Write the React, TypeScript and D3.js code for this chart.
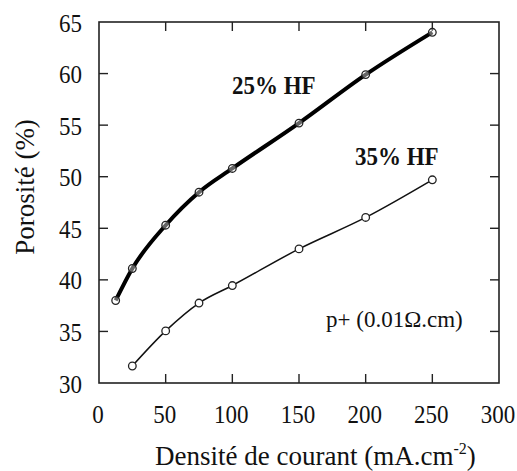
import React from "react";
import * as d3 from "d3";

const density25 = [12.5, 25, 50, 75, 100, 150, 200, 250];
const porosity25 = [38, 41.1, 45.3, 48.5, 50.8, 55.2, 59.9, 64];
const density35 = [25, 50, 75, 100, 150, 200, 250];
const porosity35 = [31.65, 35.05, 37.75, 39.45, 43, 46.05, 49.7];
const xTicks = [0, 50, 100, 150, 200, 250, 300];
const yTicks = [30, 35, 40, 45, 50, 55, 60, 65];
const labels = { s25: "25% HF", s35: "35% HF", note: "p+ (0.01Ω.cm)", xTitle: "Densité de courant (mA.cm", yTitle: "Porosité (%)" };

const W = 517, H = 471;
const L = 99, R = 499, T = 22, B = 383;

export default function App() {
  const x = d3.scaleLinear().domain([0, 300]).range([L, R]);
  const y = d3.scaleLinear().domain([30, 65]).range([B, T]);
  const line = d3.line<[number, number]>().x(d => x(d[0])).y(d => y(d[1])).curve(d3.curveMonotoneX);
  const p25 = density25.map((d, i) => [d, porosity25[i]] as [number, number]);
  const p35 = density35.map((d, i) => [d, porosity35[i]] as [number, number]);
  const font = "Liberation Serif, DejaVu Serif, serif";
  const tl = 9;
  const ts = { fontFamily: font };
  return (
    <svg width={W} height={H} style={{ position: "absolute", left: 0, top: 0, background: "#fff", fontFamily: font }}>
      <rect x={L} y={T} width={R - L} height={B - T} fill="none" stroke="#222" strokeWidth={1.6} />
      {xTicks.slice(1, -1).map(t => (
        <g key={"xt" + t}>
          <line x1={x(t)} x2={x(t)} y1={B} y2={B - tl} stroke="#222" strokeWidth={1.4} />
          <line x1={x(t)} x2={x(t)} y1={T} y2={T + tl} stroke="#222" strokeWidth={1.4} />
        </g>
      ))}
      {yTicks.slice(1, -1).map(t => (
        <g key={"yt" + t}>
          <line x1={L} x2={L + tl} y1={y(t)} y2={y(t)} stroke="#222" strokeWidth={1.4} />
          <line x1={R} x2={R - tl} y1={y(t)} y2={y(t)} stroke="#222" strokeWidth={1.4} />
        </g>
      ))}
      {xTicks.map(t => (
        <text key={"xl" + t} transform={`translate(${x(t) - 1},423) scale(1,1.1)`} textAnchor="middle" fontSize={23} fill="#111" style={ts}>{t}</text>
      ))}
      {yTicks.map(t => (
        <text key={"yl" + t} transform={`translate(82,${y(t) + 9.5}) scale(1,1.1)`} textAnchor="end" fontSize={23} fill="#111" style={ts}>{t}</text>
      ))}
      <text x={155} y={465} textAnchor="start" fontSize={27} fill="#111" style={ts}>
        {labels.xTitle}<tspan dy={-11} fontSize={16}>-2</tspan><tspan dy={11}>)</tspan>
      </text>
      <text transform={`translate(34,187) rotate(-90)`} textAnchor="middle" fontSize={27} fill="#111" style={ts}>{labels.yTitle}</text>

      <path d={line(p25) || ""} fill="none" stroke="#000" strokeWidth={4} />
      <path d={line(p35) || ""} fill="none" stroke="#111" strokeWidth={1.5} />
      {p25.map((p, i) => (
        <circle key={"c25" + i} cx={x(p[0])} cy={y(p[1])} r={3.8} fill="#fff" fillOpacity={0.4} stroke="#222" strokeWidth={1.3} />
      ))}
      {p35.map((p, i) => (
        <circle key={"c35" + i} cx={x(p[0])} cy={y(p[1])} r={3.8} fill="#fff" stroke="#222" strokeWidth={1.3} />
      ))}
      <text transform="translate(232,94) scale(1,1.1)" fontSize={23} fontWeight="bold" fill="#111" style={ts}>{labels.s25}</text>
      <text transform="translate(355,165) scale(1,1.1)" fontSize={23} fontWeight="bold" fill="#111" style={ts}>{labels.s35}</text>
      <text x={326} y={327} fontSize={23} fill="#111" style={ts}>{labels.note}</text>
    </svg>
  );
}
